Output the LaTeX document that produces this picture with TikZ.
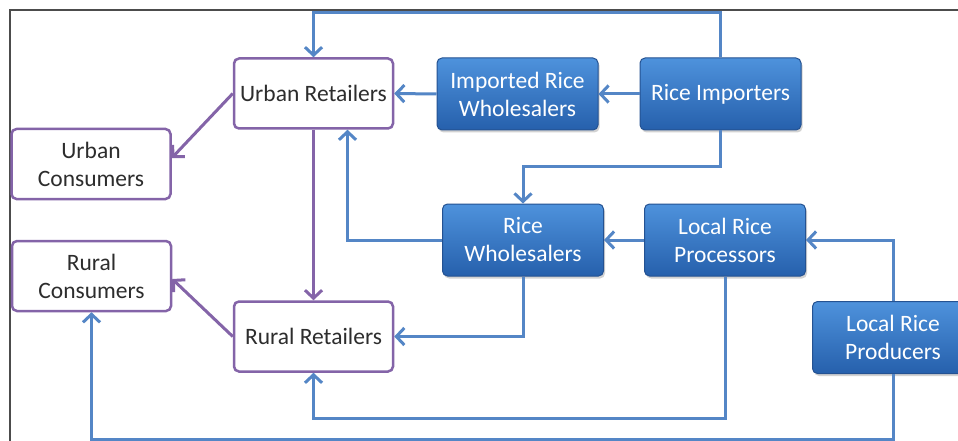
\documentclass[tikz,border=0pt]{standalone}
\usepackage{fontspec}
\setmainfont{Carlito}
\usetikzlibrary{arrows.meta}
\usetikzlibrary{shadows}
\definecolor{rblue}{RGB}{84,134,198}
\definecolor{rboxtop}{RGB}{78,146,220}
\definecolor{rboxbot}{RGB}{38,96,172}
\definecolor{rboxline}{RGB}{36,82,146}
\definecolor{rpurple}{RGB}{132,100,168}
\definecolor{rtext}{RGB}{45,45,45}
\tikzset{retail/.style = {draw=rpurple, line width=2.5pt, rounded corners=5pt,
                          fill=white, text=rtext, align=center,
                          minimum width=159pt, minimum height=70pt,
                          font=\fontsize{23.5}{28}\selectfont},
         trader/.style = {draw=rboxline, line width=1pt, rounded corners=5pt,
                          top color=rboxtop, bottom color=rboxbot, text=white,
                          align=center, minimum width=161pt, minimum height=72pt,
                          font=\fontsize{23.5}{28}\selectfont,
                          drop shadow={shadow xshift=1.5pt, shadow yshift=-2.5pt, opacity=0.35}},
         flow/.style = {rblue, line width=3pt, -{Straight Barb[length=8pt,width=17pt]}},
         sale/.style = {rpurple, line width=3pt, -{Straight Barb[length=8pt,width=17pt]}}}

\begin{document}
\begin{tikzpicture}[x=1pt, y=-1pt]
    \useasboundingbox (0, 0) rectangle (958, 441);
    \fill [white] (-6, -6) rectangle (964, 447);
    \draw [gray!60!black, line width=1.5pt] (10, 447) -- (10, 10) -- (964, 10); % frame

    \node [retail] (urbret) at (313.5, 93.5) {Urban Retailers};
    \node [retail] (urbcon) at (91, 164) {Urban\\Consumers};
    \node [retail] (rurcon) at (91.5, 276) {Rural\\Consumers};
    \node [retail] (rurret) at (313.5, 336.5) {Rural Retailers};

    \node [trader] (impwhol) at (517.5, 94) {Imported Rice\\Wholesalers};
    \node [trader] (importers) at (720.5, 94) {Rice Importers};
    \node [trader] (ricewhol) at (523, 240) {Rice\\Wholesalers};
    \node [trader] (procs) at (725, 240) {Local Rice\\Processors};
    \node [trader] (producers) at (893, 337.5) {Local Rice\\Producers};

    \draw [flow] (importers.north) -- ++(0, -45) -| (urbret.north);
    \draw [flow] (importers.west) -- (impwhol.east);
    \draw [flow] (impwhol.west) -- (urbret.east);
    \draw [flow] (importers.south) -- ++(0, 36) -| (ricewhol.north);
    \draw [flow] (procs.west) -- (ricewhol.east);
    \draw [flow] (producers.north) |- (procs.east);
    \draw [flow] (ricewhol.west) -| ([xshift=34pt]urbret.south);
    \draw [flow] (ricewhol.south) |- (rurret.east);
    \draw [flow] (procs.south) -- ++(0, 142) -| (rurret.south);
    \draw [flow] (producers.south) -- ++(0, 65) -| (rurcon.south);

    \draw [sale] (urbret.south) -- (rurret.north);
    \draw [sale] (urbret.west) -- ([yshift=6pt]urbcon.east);
    \draw [sale] (rurret.west) -- ([yshift=-3pt]rurcon.east);
  \end{tikzpicture}
\end{document}
